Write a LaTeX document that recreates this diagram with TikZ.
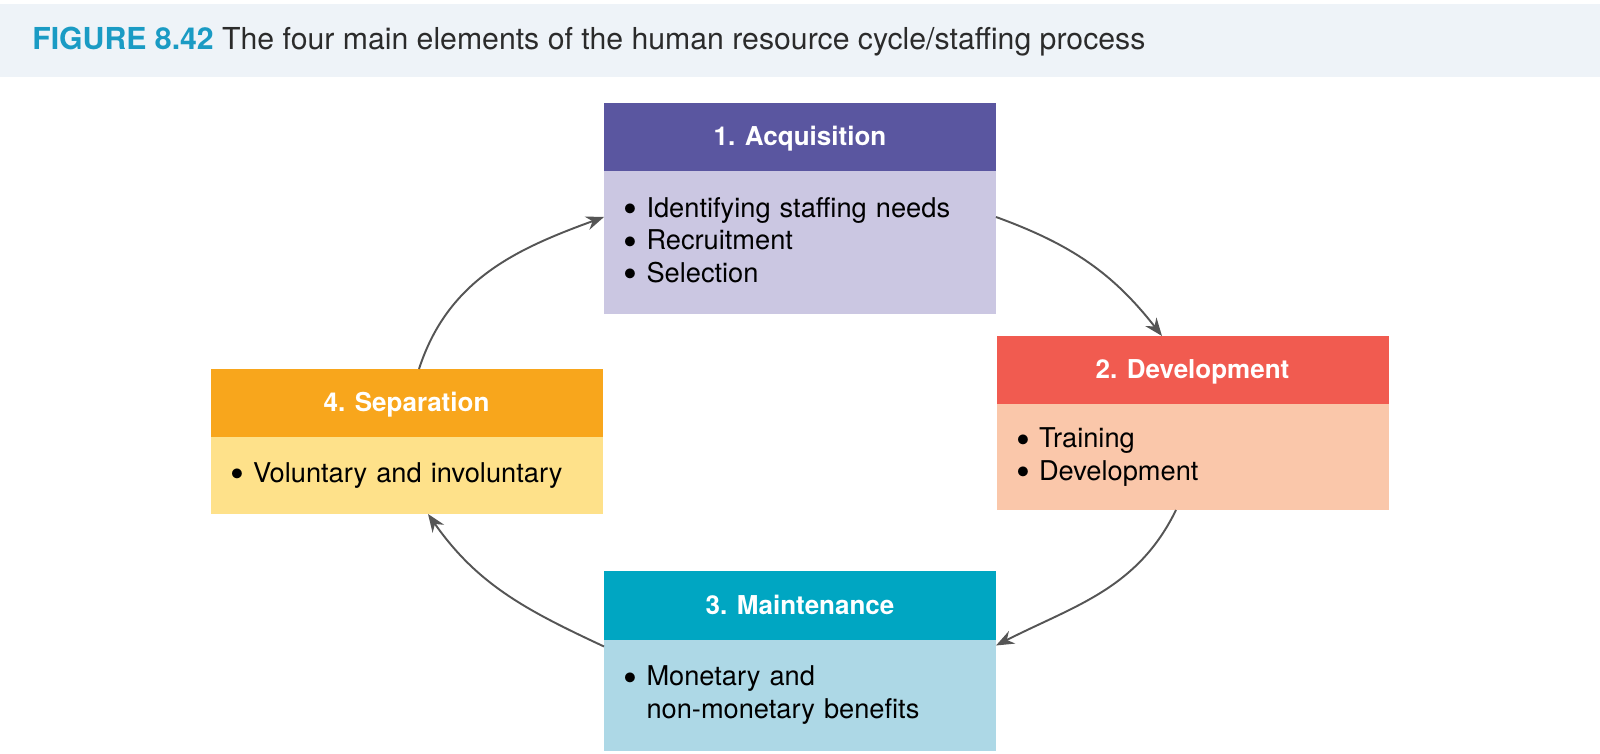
\documentclass[tikz,border=0pt]{standalone}
\usepackage{xcolor}
\usepackage{fontspec}
\setmainfont{TeX Gyre Heros}
\usepackage{tikz}
\usetikzlibrary{shapes,arrows.meta,positioning}

\definecolor{bandblue}{HTML}{EEF3F8}
\definecolor{figblue}{HTML}{1A9BC4}
\definecolor{titlegray}{HTML}{2B2B2B}
\definecolor{arrowgray}{HTML}{555555}
\definecolor{acqhead}{HTML}{5A56A0}
\definecolor{acqbody}{HTML}{CBC7E2}
\definecolor{devhead}{HTML}{F15B50}
\definecolor{devbody}{HTML}{FAC7AA}
\definecolor{mnthead}{HTML}{00A6C2}
\definecolor{mntbody}{HTML}{ADD8E6}
\definecolor{sephead}{HTML}{F8A61C}
\definecolor{sepbody}{HTML}{FEE18A}

\newcommand{\headfont}{\fontsize{14.8}{17}\selectfont\bfseries}
\newcommand{\bodyfont}{\fontsize{15.5}{18.6}\selectfont}
\newcommand{\bitem}{\makebox[0.46cm][l]{\raisebox{-0.2em}{\scalebox{1.45}{\textbullet}}}}

\begin{document}
\begin{tikzpicture}[node distance=0cm, auto]
% Define styles
\tikzstyle{head} = [rectangle, minimum width=7.84cm, minimum height=1.36cm, text height=1.0em, text depth=0pt, text centered, text=white, font=\headfont, outer sep=0pt]
\tikzstyle{body} = [rectangle, minimum width=7.84cm, text width=7.06cm, inner xsep=0.39cm, align=left, text=black, font=\bodyfont, outer sep=0pt]
\tikzstyle{arrow} = [line width=1.1pt, draw=arrowgray, -{Stealth[length=0.36cm, width=0.28cm]}]

\useasboundingbox (0,0) rectangle (32,15.06);

% Title band
\fill[bandblue] (0,13.52) rectangle (32,14.98);
\node (title) [anchor=base west, inner sep=0pt, text=titlegray, font=\fontsize{17.2}{20}\selectfont] at (0.64,14.06) {\textcolor{figblue}{\textbf{FIGURE 8.42}} The four main elements of the human resource cycle/staffing process};

% Place nodes
\node (acq) [head, fill=acqhead] at (16.00,12.32) {1. Acquisition};
\node (acqtext) [body, fill=acqbody, minimum height=2.86cm, below=of acq] {\bitem Identifying staffing needs\\\bitem Recruitment\\\bitem Selection\\[0.5cm]};

\node (dev) [head, fill=devhead] at (23.85,7.66) {2. Development};
\node (devtext) [body, fill=devbody, minimum height=2.12cm, below=of dev] {\bitem Training\\\bitem Development};

\node (mnt) [head, fill=mnthead] at (16.00,2.95) {3. Maintenance};
\node (mnttext) [body, fill=mntbody, minimum height=2.22cm, below=of mnt] {\bitem Monetary and\\\makebox[0.46cm]{}non-monetary benefits\\[0.12cm]};

\node (sep) [head, fill=sephead] at (8.13,7.00) {4. Separation};
\node (septext) [body, fill=sepbody, minimum height=1.54cm, below=of sep] {\bitem Voluntary and involuntary};

% Draw arrows
\draw [arrow] ([yshift=0.51cm]acqtext.east) to[out=-20, in=128] ([xshift=-0.61cm]dev.north);
\draw [arrow] ([xshift=-0.33cm]devtext.south) to[out=-116, in=27] ([yshift=0.99cm]mnttext.east);
\draw [arrow] ([yshift=0.97cm]mnttext.west) to[out=155, in=-55] ([xshift=0.43cm]septext.south);
\draw [arrow] ([xshift=0.25cm]sep.north) to[out=72, in=200] ([yshift=0.51cm]acqtext.west);
\end{tikzpicture}
\end{document}
